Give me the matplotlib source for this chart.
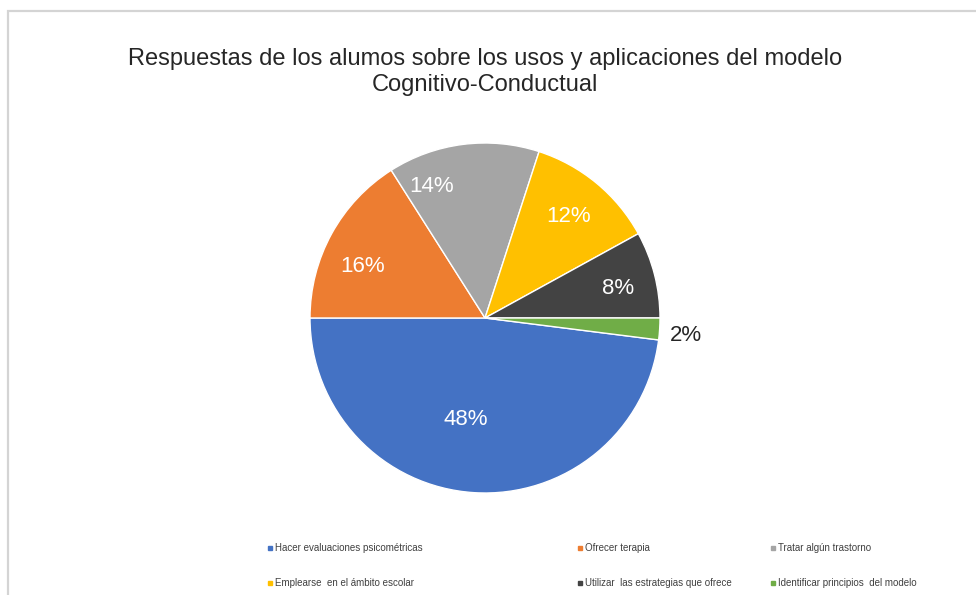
"""Pie chart: respuestas de los alumnos sobre el modelo Cognitivo-Conductual."""

import matplotlib
import matplotlib.pyplot as plt
import numpy as np
from matplotlib.lines import Line2D
from matplotlib.patches import Rectangle

matplotlib.use("Agg")

plt.rcParams["font.family"] = ["Liberation Sans", "DejaVu Sans"]

# ── Data ──────────────────────────────────────────────────────────────────────

CATEGORIES = [
    "Hacer evaluaciones psicométricas",
    "Ofrecer terapia",
    "Tratar algún trastorno",
    "Emplearse  en el ámbito escolar",
    "Utilizar  las estrategias que ofrece",
    "Identificar principios  del modelo",
]
PERCENTS = [48, 16, 14, 12, 8, 2]

COLORS = ["#4472C4", "#ED7D31", "#A5A5A5", "#FFC000", "#434343", "#70AD47"]
TITLE = "Respuestas de los alumos sobre los usos y aplicaciones del modelo\nCognitivo-Conductual"

# label placement nudges (angle offset in degrees, radius factor)
LABEL_NUDGE = [(-7, 0.59), (6, 0.76), (15, 0.81), (0, 0.75), (-2, 0.78), (-1.5, 1.15)]

W, H = 976, 595
fig = plt.figure(figsize=(W / 100, H / 100), dpi=100)

# light frame (left and top edges visible)
fig.patches.append(
    Rectangle((8 / W, -0.1), 1.2, 1.1 - 11 / H, transform=fig.transFigure,
              fill=False, edgecolor="#d4d4d4", linewidth=1.6)
)

cx, cy, r = 485, 318, 175
ax = fig.add_axes([(cx - r) / W, (H - cy - r) / H, 2 * r / W, 2 * r / H])
wedges, _ = ax.pie(
    PERCENTS,
    colors=COLORS,
    startangle=-7.2,
    counterclock=False,
    radius=1,
    wedgeprops={"edgecolor": "white", "linewidth": 1.0},
)
ax.set_xlim(-1, 1)
ax.set_ylim(-1, 1)
ax.axis("off")

for w, pct, (dang, rf) in zip(wedges, PERCENTS, LABEL_NUDGE, strict=True):
    mid = np.deg2rad((w.theta1 + w.theta2) / 2 + dang)
    outside = rf > 1
    ax.text(
        rf * np.cos(mid),
        rf * np.sin(mid),
        f"{pct}%",
        ha="center",
        va="center",
        fontsize=16,
        color="#262626" if outside else "white",
        clip_on=False,
    )

fig.text(0.497, 1 - 72 / H, TITLE, ha="center", va="center", fontsize=17,
         color="#262626", linespacing=1.25)

# legend: three columns, two rows
col_x = [268 / W, 578 / W, 771 / W]
for c in range(3):
    idx = [c, c + 3]
    handles = [
        Line2D([], [], marker="s", linestyle="none", markersize=3.5,
               markerfacecolor=COLORS[i], markeredgecolor=COLORS[i])
        for i in idx
    ]
    leg = fig.legend(
        handles,
        [CATEGORIES[i] for i in idx],
        loc="upper left",
        bbox_to_anchor=(col_x[c], 1 - 543 / H),
        frameon=False,
        fontsize=7,
        handlelength=0.4,
        handletextpad=0.3,
        labelspacing=2.6,
        borderpad=0,
        borderaxespad=0,
    )
    for t in leg.get_texts():
        t.set_color("#404040")

fig.savefig("out.png", dpi=100)
